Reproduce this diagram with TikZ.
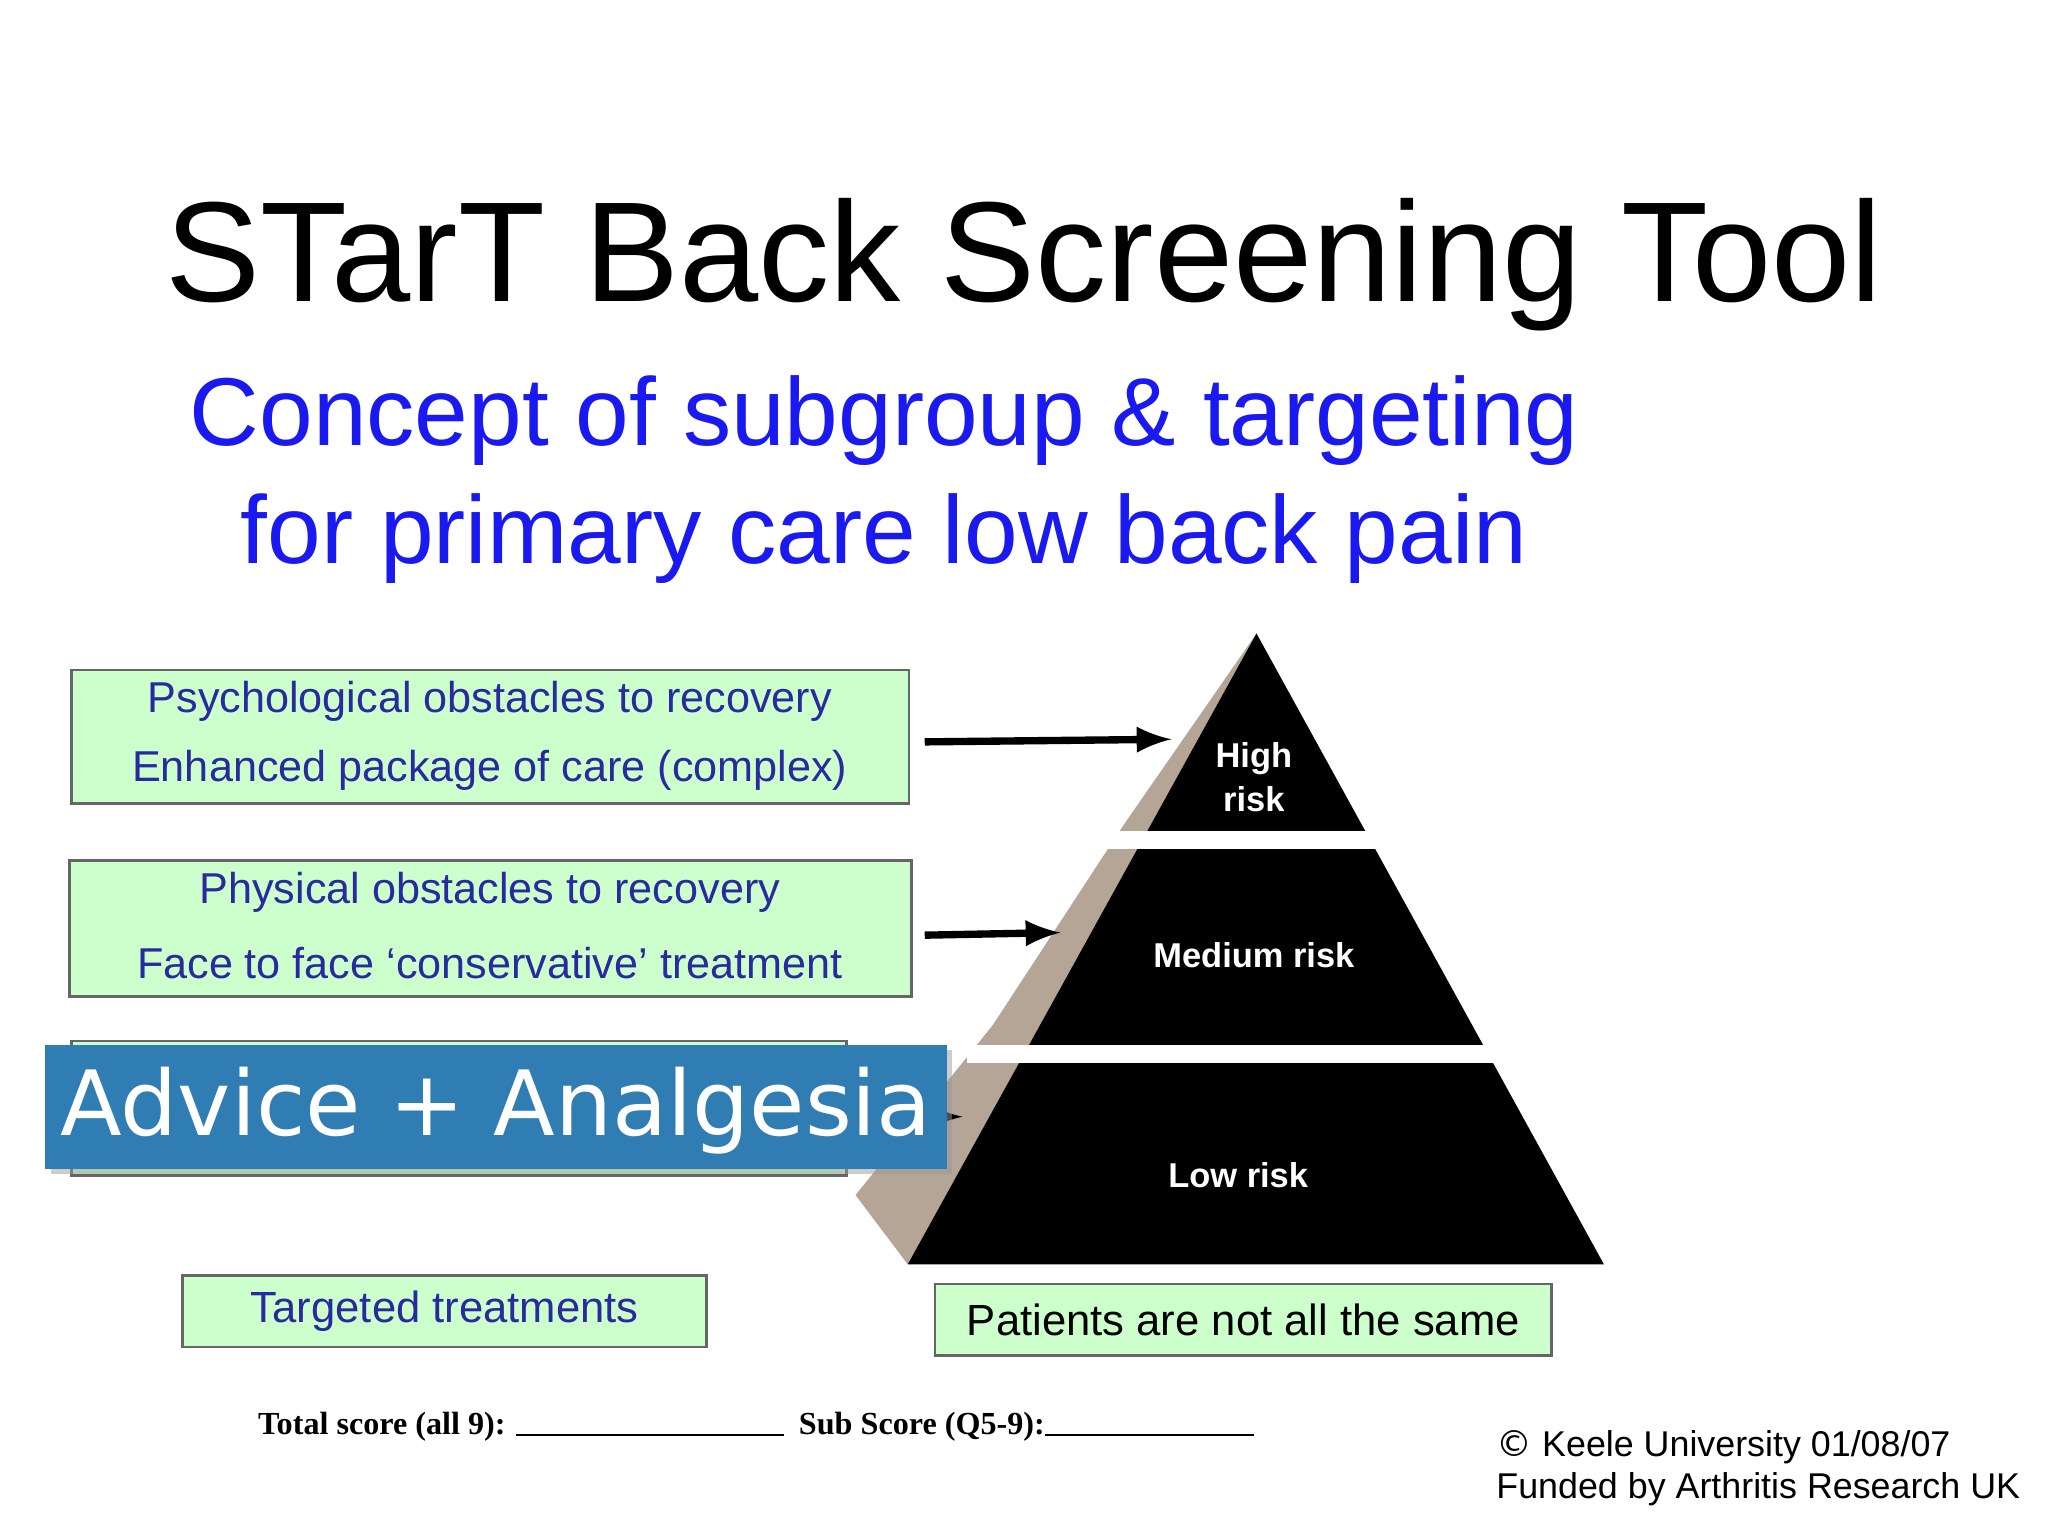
\documentclass[tikz,border=0pt]{standalone}
\usepackage{fontspec}
\setmainfont{Liberation Sans}
\newfontfamily\dvs{DejaVu Sans}
\newfontfamily\tms{Liberation Serif}
\definecolor{boxgreen}{HTML}{CCFFCC}
\definecolor{boxtext}{HTML}{2A2AA0}
\definecolor{subblue}{HTML}{1A1AF0}
\definecolor{banner}{HTML}{2F7DB3}
\definecolor{tanshade}{HTML}{B5A596}
\begin{document}
\begin{tikzpicture}[x=0.01cm,y=-0.01cm,
  gbox/.style={draw=gray!80!black,fill=boxgreen,line width=0.6pt},
  btxt/.style={text=boxtext,font=\fontsize{9.4}{10}\selectfont},
  arr/.style={-latex,line width=1.6pt},
  rtxt/.style={text=white,font=\bfseries\fontsize{7.5}{9.5}\selectfont,align=center}]
\useasboundingbox (0,0) rectangle (1568,1176);
\node (title) at (784,203) {\fontsize{31}{36}\selectfont STarT Back Screening Tool};
\node (sub1) at (677,322) {\color{subblue}\fontsize{21}{24}\selectfont Concept of subgroup \& targeting};
\node (sub2) at (677,412) {\color{subblue}\fontsize{21}{24}\selectfont for primary care low back pain};
% boxes
\draw[gbox] (55,513) rectangle (696,615);
\node[btxt] (p1) at (375,537) {Psychological obstacles to recovery};
\node[btxt] (p2) at (375,590) {Enhanced package of care (complex)};
\draw[gbox] (53,659) rectangle (698,763);
\node[btxt] (f1) at (375,683) {Physical obstacles to recovery};
\node[btxt] (f2) at (375,737) {Face to face `conservative' treatment};
\draw[gbox] (55,797) rectangle (648,900);
% pyramid
\fill[tanshade] (962,485) -- (860,632) -- (760,785) -- (655,915) -- (695,968) -- cycle;
\fill[black] (962,485) -- (1228,968) -- (695,968) -- cycle;
\fill[white] (840,636) rectangle (1100,650);
\fill[white] (740,800) rectangle (1180,814);
\node[rtxt] (hr) at (960,595) {High\\risk};
\node[rtxt] (mr) at (960,731) {Medium risk};
\node[rtxt] (lr) at (948,900) {Low risk};
\coordinate (a1) at (708,568); \coordinate (b1) at (897,566);
\coordinate (a2) at (708,716); \coordinate (b2) at (812,714);
\draw[arr] (a1) -- (b1);
\draw[arr] (a2) -- (b2);
\coordinate (a3) at (700,855); \coordinate (b3) at (737,855);
\draw[arr] (a3) -- (b3);
% banner
\fill[black!40,opacity=0.5] (39,804) rectangle (729,899);
\node[fill=banner,minimum width=6.9cm,minimum height=0.95cm,inner sep=0] (adv) at (380,847.5) {};
\node[text=white] at (380,850) {\dvs\fontsize{19.6}{24}\selectfont Advice + Analgesia};
% bottom boxes
\node[gbox,minimum width=4.01cm,minimum height=0.48cm,btxt,font=\fontsize{9.5}{10}\selectfont] (tt) at (340.5,1004) {Targeted treatments};
\node[gbox,minimum width=4.72cm,minimum height=0.55cm,font=\fontsize{9.5}{12}\selectfont] (pn) at (952,1010.5) {Patients are not all the same};
\node[anchor=west,inner sep=0,font=\tms\bfseries\fontsize{7}{8}\selectfont] (ts) at (197,1092) {Total score (all 9): \rule[-0.5pt]{2.05cm}{0.5pt}};
\node[anchor=west,inner sep=0,font=\tms\bfseries\fontsize{7}{8}\selectfont] (ss) at (611,1092) {Sub Score (Q5-9):\rule[-0.5pt]{1.6cm}{0.5pt}};
\node[anchor=west,align=left,font=\fontsize{7.8}{9.2}\selectfont,inner sep=0] (cp) at (1145,1124) {\dvs©\rmfamily{} Keele University 01/08/07\\Funded by Arthritis Research UK};
\end{tikzpicture}
\end{document}
